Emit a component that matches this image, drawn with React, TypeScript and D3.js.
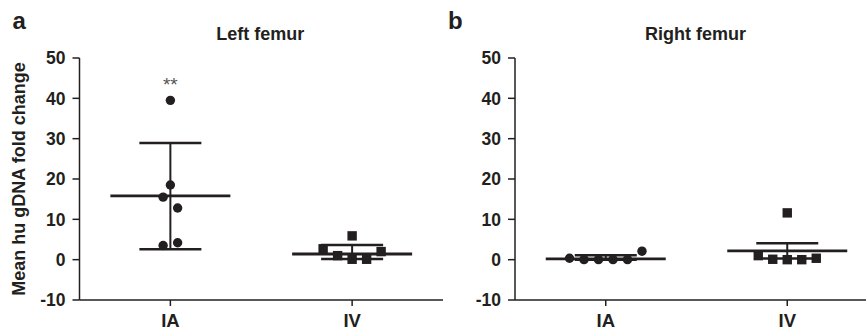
import React from "react";
import * as d3 from "d3";

// ---- data ----
const groups = ["IA", "IV"];
const yTicks = [-10, 0, 10, 20, 30, 40, 50];

// Left femur
const leftIA = [39.5, 18.5, 15.5, 12.8, 3.5, 4.2];
const leftIASlots = [0, 0, -0.5, 0.5, -0.5, 0.5];
const leftIV = [5.9, 2.7, 1.0, 0.1, 0.1, 2.0];
const leftIVSlots = [0, -2, -1, 0, 1, 2];
const leftMeans = [15.8, 1.4];
const leftUpper = [28.9, 3.65];
const leftLower = [2.6, 0.15];

// Right femur
const rightIA = [0.35, 0, 0, 0, 0, 2.1];
const rightIASlots = [-2.5, -1.5, -0.5, 0.5, 1.5, 2.5];
const rightIV = [11.6, 1.0, 0.1, 0.0, 0.0, 0.35];
const rightIVSlots = [0, -2, -1, 0, 1, 2];
const rightMeans = [0.2, 2.2];
const rightUpper = [1.1, 4.1];
const rightLower = [0.0, 0.3];

const INK = "#231f20";
const FONT = "'Liberation Sans', Arial, Helvetica, sans-serif";

interface PanelProps {
  letter: string;
  title: string;
  left: number;
  right: number;
  values: number[][];
  slots: number[][];
  means: number[];
  upper: number[];
  lower: number[];
  showYLabel?: boolean;
  stars?: string;
}

const TOP = 58;
const BOTTOM = 300;
const SPACING = 14.5;
const R = 4.7;

function Panel({ letter, title, left, right, values, slots, means, upper, lower, showYLabel, stars }: PanelProps) {
  const y = d3.scaleLinear().domain([-10, 50]).range([BOTTOM, TOP]);
  const x = d3.scalePoint<string>().domain(groups).range([left, right]).padding(0.5);
  const cx = (left + right) / 2;

  return (
    <g>
      <text x={left - 67} y={29} fontSize={24} fontWeight="bold" fill={INK}>{letter}</text>
      <text x={cx - 1} y={40} fontSize={18} fontWeight="bold" textAnchor="middle" fill={INK}>{title}</text>

      {showYLabel && (
        <text
          transform={`translate(25, ${(TOP + BOTTOM) / 2}) rotate(-90)`}
          fontSize={18}
          fontWeight="bold"
          textAnchor="middle"
          fill={INK}
        >
          Mean hu gDNA fold change
        </text>
      )}

      {/* y axis */}
      <line x1={left} x2={left} y1={TOP} y2={BOTTOM} stroke={INK} strokeWidth={1.5} />
      {yTicks.map((t) => (
        <g key={t}>
          <line x1={left - 7} x2={left} y1={y(t)} y2={y(t)} stroke={INK} strokeWidth={1.5} />
          <text x={left - 14} y={y(t)} dy="0.36em" fontSize={17.5} fontWeight="bold" textAnchor="end" fill={INK}>
            {t}
          </text>
        </g>
      ))}

      {/* x axis */}
      <line x1={left} x2={right} y1={BOTTOM} y2={BOTTOM} stroke={INK} strokeWidth={1.5} />
      {groups.map((g) => (
        <g key={g}>
          <line x1={x(g)} x2={x(g)} y1={BOTTOM} y2={BOTTOM + 6} stroke={INK} strokeWidth={1.5} />
          <text x={x(g)} y={327} fontSize={18.5} fontWeight="bold" textAnchor="middle" fill={INK}>{g}</text>
        </g>
      ))}

      {/* mean and error bars */}
      {groups.map((g, i) => {
        const gx = x(g) as number;
        return (
          <g key={g} stroke={INK} fill="none">
            <line x1={gx} x2={gx} y1={y(lower[i])} y2={y(upper[i])} strokeWidth={2} />
            <line x1={gx - 31} x2={gx + 31} y1={y(upper[i])} y2={y(upper[i])} strokeWidth={2.5} />
            <line x1={gx - 31} x2={gx + 31} y1={y(lower[i])} y2={y(lower[i])} strokeWidth={2.5} />
            <line x1={gx - 60} x2={gx + 60} y1={y(means[i])} y2={y(means[i])} strokeWidth={2.8} />
          </g>
        );
      })}

      {/* points: circles for IA, squares for IV */}
      {values[0].map((v, j) => (
        <circle key={`c${j}`} cx={(x("IA") as number) + slots[0][j] * SPACING} cy={y(v)} r={R} fill={INK} />
      ))}
      {values[1].map((v, j) => (
        <rect
          key={`s${j}`}
          x={(x("IV") as number) + slots[1][j] * SPACING - R}
          y={y(v) - R}
          width={R * 2}
          height={R * 2}
          fill={INK}
        />
      ))}

      {stars && (
        <text x={x("IA")} y={91} fontSize={19} textAnchor="middle" fill="#555">{stars}</text>
      )}
    </g>
  );
}

export default function App() {
  return (
    <div style={{ position: "absolute", left: 0, top: 0 }}>
      <svg width={866} height={331} style={{ display: "block", fontFamily: FONT, background: "#fff" }}>
        <Panel
          letter="a"
          title="Left femur"
          left={79.5}
          right={443}
          values={[leftIA, leftIV]}
          slots={[leftIASlots, leftIVSlots]}
          means={leftMeans}
          upper={leftUpper}
          lower={leftLower}
          showYLabel
          stars="**"
        />
        <Panel
          letter="b"
          title="Right femur"
          left={515}
          right={878}
          values={[rightIA, rightIV]}
          slots={[rightIASlots, rightIVSlots]}
          means={rightMeans}
          upper={rightUpper}
          lower={rightLower}
        />
      </svg>
    </div>
  );
}
